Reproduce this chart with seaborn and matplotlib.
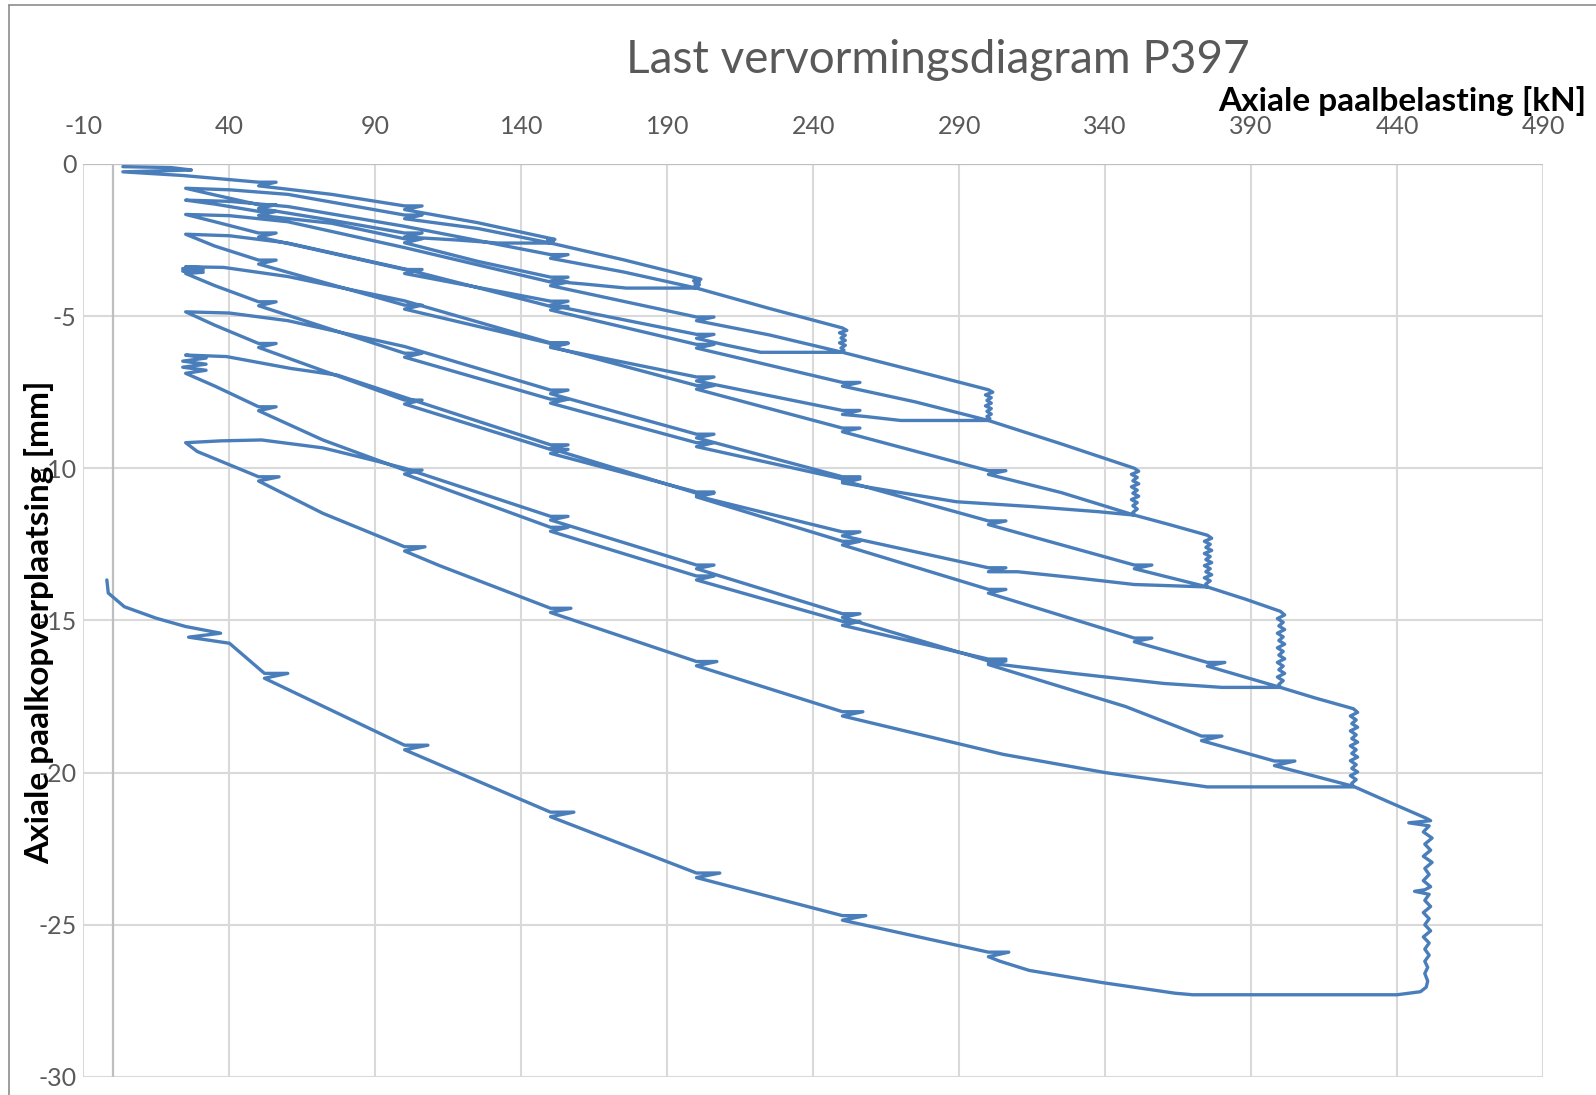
import numpy as np
import pandas as pd
import matplotlib
matplotlib.use("Agg")
import matplotlib.pyplot as plt
import seaborn as sns

# ------------------------------------------
# Data: load [kN] vs pile head displacement [mm]
# per cycle: loading (up), hold at peak, unloading in steps (down)
# ------------------------------------------

c1_up_kn = [3.5, 20, 27, 3.5, 24, 50, 56, 50, 75, 100, 106, 100, 125, 150]
c1_up_mm = [-0.09, -0.12, -0.2, -0.26, -0.38, -0.6, -0.6, -0.72, -1.0, -1.38, -1.38, -1.5, -1.93, -2.45]
c1_hold_kn = [150, 151.5, 149, 151, 149.5, 150.5, 150]
c1_hold_mm = [-2.45, -2.48, -2.5, -2.53, -2.56, -2.58, -2.6]
c1_down_kn = [150, 132, 118, 100, 106, 100, 75, 50, 56, 50, 35, 25]
c1_down_mm = [-2.6, -2.6, -2.5, -2.4, -2.27, -2.27, -1.85, -1.46, -1.34, -1.34, -1.02, -0.8]

c2_up_kn = [25, 40, 60, 100, 106, 100, 125, 150, 175, 200]
c2_up_mm = [-0.8, -0.85, -1.0, -1.68, -1.68, -1.8, -2.12, -2.6, -3.15, -3.75]
c2_hold_kn = [200, 201.5, 199, 201, 199.5, 201, 199.5, 200.5, 200]
c2_hold_mm = [-3.75, -3.79, -3.84, -3.88, -3.93, -3.97, -4.01, -4.05, -4.08]
c2_down_kn = [200, 176, 162, 150, 156, 150, 125, 100, 106, 100, 75, 50, 56, 50, 35, 25]
c2_down_mm = [-4.08, -4.08, -3.95, -3.85, -3.72, -3.72, -3.2, -2.59, -2.46, -2.46, -1.95, -1.69, -1.56,
              -1.56, -1.32, -1.19]

c3_up_kn = [25, 40, 60, 100, 150, 156, 150, 175, 200, 225, 250]
c3_up_mm = [-1.19, -1.23, -1.4, -2.05, -2.98, -2.98, -3.1, -3.55, -4.08, -4.75, -5.39]
c3_hold_kn = [250, 251.5, 249, 251, 249.5, 251, 249, 251, 249.5, 250.5, 250]
c3_hold_mm = [-5.39, -5.47, -5.55, -5.63, -5.72, -5.8, -5.88, -5.96, -6.05, -6.12, -6.19]
c3_down_kn = [250, 222, 210, 200, 206, 200, 150, 156, 150, 100, 106, 100, 50, 56, 50, 35, 25]
c3_down_mm = [-6.19, -6.19, -5.95, -5.73, -5.6, -5.6, -4.64, -4.51, -4.51, -3.6, -3.47, -3.47, -2.4,
              -2.27, -2.27, -1.9, -1.66]

c4_up_kn = [25, 40, 60, 100, 150, 156, 150, 200, 206, 200, 225, 250, 275, 300]
c4_up_mm = [-1.66, -1.7, -1.9, -2.75, -3.88, -3.88, -4.0, -5.03, -5.03, -5.15, -5.62, -6.19, -6.8, -7.42]
c4_hold_kn = [300, 301.5, 299, 301, 299.5, 301, 299, 301, 299.5, 301, 299.5, 300.5, 300]
c4_hold_mm = [-7.42, -7.5, -7.59, -7.68, -7.77, -7.86, -7.95, -8.04, -8.13, -8.22, -8.3, -8.37, -8.43]
c4_down_kn = [300, 270, 258, 250, 256, 250, 200, 206, 200, 150, 156, 150, 100, 106, 100, 50, 56, 50, 35, 25]
c4_down_mm = [-8.43, -8.43, -8.3, -8.23, -8.1, -8.1, -7.13, -7.0, -7.0, -6.03, -5.9, -5.9, -4.77, -4.64,
              -4.64, -3.29, -3.16, -3.16, -2.7, -2.31]

c5_up_kn = [25, 40, 60, 100, 150, 156, 150, 200, 206, 200, 250, 256, 250, 275, 300, 325, 350]
c5_up_mm = [-2.31, -2.36, -2.6, -3.45, -4.68, -4.68, -4.8, -5.93, -5.93, -6.05, -7.18, -7.18, -7.3, -7.82,
            -8.43, -9.2, -10.0]
c5_hold_kn = [350, 351.5, 349, 351, 349.5, 351.5, 349, 351, 349.5, 351.5, 349, 351, 349.5, 351, 349.5, 350]
c5_hold_mm = [-10.0, -10.1, -10.2, -10.3, -10.41, -10.51, -10.61, -10.72, -10.82, -10.92, -11.03, -11.13,
              -11.23, -11.34, -11.45, -11.54]
c5_down_kn = [350, 338, 315, 289, 270, 250, 256, 250, 200, 206, 200, 150, 156, 150, 100, 106, 100, 50, 56,
              50, 35, 25]
c5_down_mm = [-11.54, -11.43, -11.26, -11.1, -10.8, -10.48, -10.35, -10.35, -9.29, -9.16, -9.16, -7.86,
              -7.73, -7.73, -6.35, -6.22, -6.22, -4.66, -4.53, -4.53, -4.0, -3.6]
c5_low_kn = [25, 31, 24, 31, 24, 31, 25]
c5_low_mm = [-3.6, -3.56, -3.52, -3.48, -3.44, -3.41, -3.38]

c6_up_kn = [25, 38, 60, 100, 150, 156, 150, 200, 206, 200, 250, 256, 250, 300, 306, 300, 325, 350, 362, 375]
c6_up_mm = [-3.38, -3.4, -3.7, -4.5, -5.88, -5.88, -6.0, -7.28, -7.28, -7.4, -8.68, -8.68, -8.8, -10.08,
            -10.08, -10.2, -10.8, -11.54, -11.85, -12.2]
c6_hold_kn = [375, 376.5, 374, 376, 374.5, 376.5, 374, 376, 374.5, 376.5, 374, 376, 374.5, 376.5, 374, 376,
              374.5, 375]
c6_hold_mm = [-12.2, -12.3, -12.4, -12.5, -12.6, -12.7, -12.8, -12.9, -13.0, -13.1, -13.2, -13.3, -13.4,
              -13.5, -13.6, -13.7, -13.8, -13.9]
c6_down_kn = [375, 350, 330, 310, 300, 306, 300, 250, 256, 250, 200, 206, 200, 150, 156, 150, 100, 106, 100,
              50, 56, 50, 35, 25]
c6_down_mm = [-13.9, -13.82, -13.6, -13.4, -13.4, -13.27, -13.27, -12.22, -12.09, -12.09, -10.91, -10.78,
              -10.78, -9.51, -9.38, -9.38, -7.89, -7.76, -7.76, -6.03, -5.9, -5.9, -5.3, -4.86]

c7_up_kn = [25, 40, 60, 100, 150, 156, 150, 200, 206, 200, 250, 256, 250, 300, 306, 300, 350, 356, 350,
            375, 388, 400]
c7_up_mm = [-4.86, -4.9, -5.15, -6.0, -7.43, -7.43, -7.55, -8.88, -8.88, -9.0, -10.28, -10.28, -10.4,
            -11.73, -11.73, -11.85, -13.18, -13.18, -13.3, -13.9, -14.3, -14.7]
c7_hold_kn = [400, 401.5, 399, 401, 399.5, 401.5, 399, 401, 399.5, 401.5, 399, 401, 399.5, 401.5, 399, 401,
              399.5, 401.5, 399, 401, 399.5, 400]
c7_hold_mm = [-14.7, -14.82, -14.94, -15.06, -15.18, -15.3, -15.42, -15.54, -15.66, -15.78, -15.9, -16.02,
              -16.14, -16.26, -16.38, -16.5, -16.62, -16.74, -16.86, -16.98, -17.1, -17.2]
c7_down_kn = [400, 380, 360, 330, 300, 306, 300, 250, 256, 250, 200, 206, 200, 150, 156, 150, 100, 106, 100,
              72, 50, 56, 50, 35, 25]
c7_down_mm = [-17.2, -17.2, -17.07, -16.75, -16.4, -16.27, -16.27, -15.16, -15.03, -15.03, -13.67, -13.54,
              -13.54, -12.07, -11.94, -11.94, -10.19, -10.06, -10.06, -9.07, -8.11, -7.98, -7.98, -7.3, -6.88]
c7_low_kn = [25, 32, 24, 32, 24, 32, 25]
c7_low_mm = [-6.88, -6.78, -6.68, -6.58, -6.48, -6.38, -6.28]

c8_up_kn = [25, 39, 61, 77, 100, 150, 156, 150, 200, 206, 200, 250, 256, 250, 300, 306, 300, 350, 356, 350,
            375, 381, 375, 400, 412, 425]
c8_up_mm = [-6.28, -6.33, -6.72, -6.94, -7.67, -9.23, -9.23, -9.35, -10.82, -10.82, -10.94, -12.4, -12.4,
            -12.52, -13.98, -13.98, -14.1, -15.58, -15.58, -15.7, -16.38, -16.38, -16.5, -17.2, -17.55, -17.9]
c8_hold_kn = [425, 426.5, 424, 426, 424.5, 426.5, 424, 426, 424.5, 426.5, 424, 426, 424.5, 426.5, 424, 426,
              424.5, 426.5, 424, 426, 424.5, 425]
c8_hold_mm = [-17.9, -18.02, -18.14, -18.27, -18.39, -18.51, -18.63, -18.76, -18.88, -19.0, -19.12, -19.25,
              -19.37, -19.49, -19.61, -19.74, -19.86, -19.98, -20.1, -20.23, -20.35, -20.47]
c8_down_kn = [425, 375, 340, 305, 250, 257, 250, 200, 207, 200, 150, 157, 150, 112, 100, 107, 100, 72, 50,
              57, 50, 29, 25]
c8_down_mm = [-20.47, -20.47, -20.0, -19.4, -18.14, -18.0, -18.0, -16.49, -16.35, -16.35, -14.74, -14.6,
              -14.6, -13.2, -12.72, -12.58, -12.58, -11.48, -10.42, -10.28, -10.28, -9.45, -9.16]

c9_up_kn = [25, 37, 51, 72, 89, 100, 150, 156, 150, 200, 206, 200, 250, 256, 250, 300, 306, 300, 347, 373,
            380, 373, 398, 405, 398, 425, 438, 450]
c9_up_mm = [-9.16, -9.1, -9.07, -9.33, -9.73, -10.0, -11.58, -11.58, -11.7, -13.18, -13.18, -13.3, -14.78,
            -14.78, -14.9, -16.33, -16.33, -16.45, -17.83, -18.8, -18.8, -18.95, -19.62, -19.62, -19.77,
            -20.45, -21.0, -21.5]
c9_hold_kn = [450, 451.5, 444, 451, 449, 452, 449.5, 451.5, 449, 452, 449.5, 451, 449, 451.5, 449.5, 446,
              451, 449.5, 451.5, 449, 451, 449.5, 451.5, 449, 451, 449.5, 451, 449.5, 450.5, 449.5, 450.5, 450]
c9_hold_mm = [-21.5, -21.58, -21.65, -21.75, -21.95, -22.15, -22.35, -22.55, -22.75, -22.95, -23.15, -23.35,
              -23.55, -23.75, -23.85, -23.9, -24.0, -24.2, -24.4, -24.6, -24.8, -25.0, -25.2, -25.4, -25.6,
              -25.8, -26.0, -26.2, -26.4, -26.6, -26.85, -27.05]
c9_down_kn = [450, 448, 440, 370, 364, 339, 314, 304, 300, 307, 300, 250, 258, 250, 200, 208, 200, 150, 158,
              150, 100, 108, 100, 52, 60, 52, 40, 26, 37, 25, 15, 4, -1.5, -2]
c9_down_mm = [-27.05, -27.2, -27.3, -27.3, -27.25, -26.9, -26.5, -26.2, -26.05, -25.9, -25.9, -24.85, -24.7,
              -24.7, -23.45, -23.3, -23.3, -21.45, -21.3, -21.3, -19.25, -19.1, -19.1, -16.9, -16.74, -16.74,
              -15.75, -15.55, -15.42, -15.2, -14.93, -14.55, -14.1, -13.67]

x_ticks = [-10, 40, 90, 140, 190, 240, 290, 340, 390, 440, 490]
y_ticks = [0, -5, -10, -15, -20, -25, -30]

segments = [
    (c1_up_kn, c1_up_mm), (c1_hold_kn, c1_hold_mm), (c1_down_kn, c1_down_mm),
    (c2_up_kn, c2_up_mm), (c2_hold_kn, c2_hold_mm), (c2_down_kn, c2_down_mm),
    (c3_up_kn, c3_up_mm), (c3_hold_kn, c3_hold_mm), (c3_down_kn, c3_down_mm),
    (c4_up_kn, c4_up_mm), (c4_hold_kn, c4_hold_mm), (c4_down_kn, c4_down_mm),
    (c5_up_kn, c5_up_mm), (c5_hold_kn, c5_hold_mm), (c5_down_kn, c5_down_mm), (c5_low_kn, c5_low_mm),
    (c6_up_kn, c6_up_mm), (c6_hold_kn, c6_hold_mm), (c6_down_kn, c6_down_mm),
    (c7_up_kn, c7_up_mm), (c7_hold_kn, c7_hold_mm), (c7_down_kn, c7_down_mm), (c7_low_kn, c7_low_mm),
    (c8_up_kn, c8_up_mm), (c8_hold_kn, c8_hold_mm), (c8_down_kn, c8_down_mm),
    (c9_up_kn, c9_up_mm), (c9_hold_kn, c9_hold_mm), (c9_down_kn, c9_down_mm),
]

df = pd.DataFrame({
    "load": np.concatenate([s[0] for s in segments]),
    "disp": np.concatenate([s[1] for s in segments]),
})

# ------------------------------------------
# Plot
# ------------------------------------------

sns.set_style("white")
plt.rcParams["font.family"] = ["Lato", "DejaVu Sans"]
plt.rcParams["axes.unicode_minus"] = False

fig = plt.figure(figsize=(15.96, 10.95), dpi=100)
ax = fig.add_axes([0.0523, 0.0165, 0.9145, 0.8338])

sns.lineplot(data=df, x="load", y="disp", sort=False, estimator=None,
             color="#4A7EBB", linewidth=2.4, ax=ax, zorder=3)

ax.set_xlim(-10, 490)
ax.set_ylim(-30, 0)
ax.set_xticks(x_ticks)
ax.set_yticks(y_ticks)
ax.xaxis.tick_top()
ax.tick_params(axis="x", length=0, pad=19, labelsize=18, labelcolor="#595959")
ax.tick_params(axis="y", length=0, pad=5, labelsize=18, labelcolor="#595959")
ax.grid(True, color="#d9d9d9", linewidth=1.5)
ax.axvline(0, color="#bfbfbf", linewidth=1.6, zorder=2)
ax.axhline(0, color="#bfbfbf", linewidth=1.6, zorder=2)
for s in ax.spines.values():
    s.set_visible(False)
ax.set_xlabel("")
ax.set_ylabel("")

fig.text(0.5874, 0.945, "Last vervormingsdiagram P397", ha="center", va="center",
         fontsize=33, color="#595959")
fig.text(0.9937, 0.9075, "Axiale paalbelasting [kN]", ha="right", va="center",
         fontsize=24, fontweight="bold", color="black")
fig.text(0.0245, 0.432, "Axiale paalkopverplaatsing [mm]", ha="center", va="center",
         rotation=90, fontsize=24, fontweight="bold", color="black")

# chart border (only left and top visible in the crop)
fig.add_artist(plt.Line2D([0.0055, 0.0055], [0, 0.9954], color="#8c8c8c", linewidth=1.2,
                          transform=fig.transFigure))
fig.add_artist(plt.Line2D([0.0055, 1.0], [0.9954, 0.9954], color="#8c8c8c", linewidth=1.2,
                          transform=fig.transFigure))

fig.savefig("out.png", dpi=100)
